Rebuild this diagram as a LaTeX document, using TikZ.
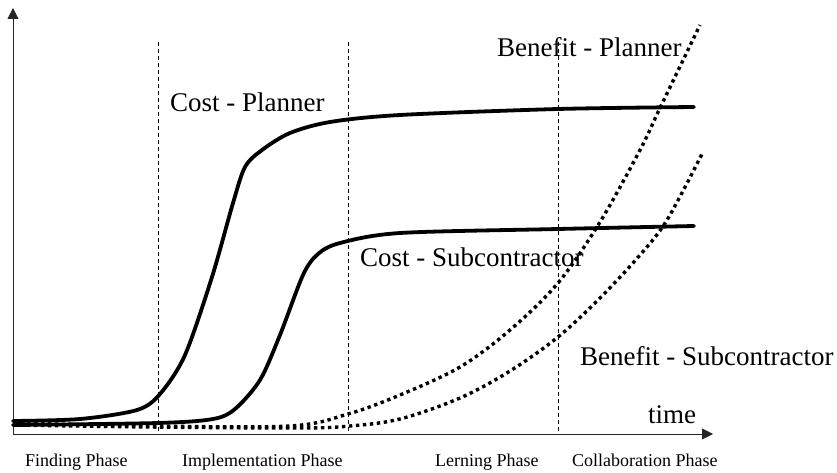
\documentclass[tikz,border=0pt]{standalone}
\usepackage{fontspec}
\setmainfont{Liberation Serif}
\usetikzlibrary{arrows.meta}
\begin{document}
\begin{tikzpicture}[x=1pt,y=-1pt,
  axisline/.style={line width=0.9pt, draw=black!85, -{Triangle[length=11pt,width=11pt]}},
  phaseline/.style={line width=0.8pt, dash pattern=on 4pt off 3pt},
  costline/.style={line width=3.8pt, line cap=round, line join=round},
  benefitline/.style={line width=3.4pt, dash pattern=on 3.4pt off 3.6pt},
  biglabel/.style={font=\fontsize{27}{30}\selectfont, inner sep=0pt, anchor=base west},
  phaselabel/.style={font=\fontsize{18}{20}\selectfont, inner sep=0pt, anchor=base west}]
\useasboundingbox (0,0) rectangle (837,473);
% axes
\coordinate (O) at (13,434);
\coordinate (Ytop) at (13,8);
\coordinate (Xend) at (713,434);
\draw[axisline] (O) -- (Ytop);
\draw[axisline] (O) -- (Xend);
% phase separators
\foreach \n/\x in {a/158,b/348,c/558}{
  \coordinate (top\n) at (\x,42);
  \coordinate (bot\n) at (\x,434);
  \draw[phaseline] (top\n) -- (bot\n);
}
% benefit curves (dotted)
\draw[benefitline] plot[smooth, tension=0.55] coordinates {
  (13,423) (150,426) (290,426) (348,414) (400,395) (460,367) (510,330)
  (558,283) (600,222) (640,150) (660,108) (700,25)};
\draw[benefitline] plot[smooth, tension=0.55] coordinates {
  (13,425) (150,427) (300,428) (350,426) (400,419) (460,398) (510,371)
  (558,337) (600,298) (640,255) (667,220) (702,154)};
% cost curves (solid)
\draw[costline] plot[smooth, tension=0.5] coordinates {
  (13,421) (80,419) (137,410) (160,394) (185,355) (212,277) (233,203)
  (245,167) (262,150) (290,133) (330,122) (400,115) (558,109) (694,107)};
\draw[costline] plot[smooth, tension=0.5] coordinates {
  (13,425) (158,423) (213,419) (235,409) (260,380) (280,335) (303,275)
  (318,254) (340,243) (400,233) (558,229) (694,226)};
% labels
\node[biglabel] (costp) at (170,112) {Cost - Planner};
\node[biglabel] (costs) at (360,266) {Cost - Subcontractor};
\node[biglabel] (benp) at (497,57) {Benefit - Planner};
\node[biglabel] (bens) at (580,365) {Benefit - Subcontractor};
\node[biglabel] (time) at (648,423) {time};
\node[phaselabel] (ph1) at (25,466) {Finding Phase};
\node[phaselabel] (ph2) at (182,466) {Implementation Phase};
\node[phaselabel] (ph3) at (435,466) {Lerning Phase};
\node[phaselabel] (ph4) at (572,466) {Collaboration Phase};
\end{tikzpicture}
\end{document}
